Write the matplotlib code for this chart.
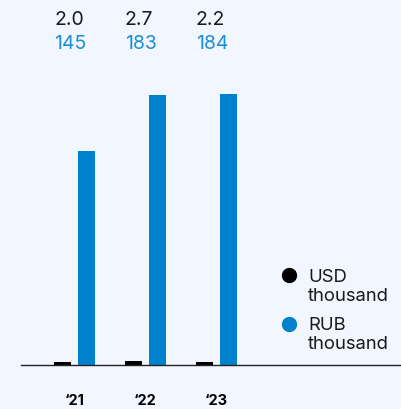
import numpy as np
import matplotlib.pyplot as plt

plt.rcParams['font.family'] = ['Inter', 'DejaVu Sans']

years = ['‘21', '‘22', '‘23']
usd = [2.0, 2.7, 2.2]
rub = [145, 183, 184]
usd_labels = ['2.0', '2.7', '2.2']
rub_labels = ['145', '183', '184']

bg = '#F2F6FE'
blue = '#0081CD'
blue_txt = '#1C90D6'

fig = plt.figure(figsize=(4.01, 4.10), dpi=100, facecolor=bg)
# axes start at the axis line (x=21px) and bottom line (y=366px)
ax = fig.add_axes([21 / 401, 1 - 366 / 410, 1 - 21 / 401, 366 / 410])
ax.set_facecolor(bg)

x = np.arange(len(years))
w = 0.24
off = 0.169
ax.bar(x - off, usd, width=w, color='black')
ax.bar(x + off, rub, width=w, color=blue)

ax.set_xlim(-0.754, 4.599)
ax.set_ylim(0, 184 * 366 / 271)

for s in ['top', 'right', 'left']:
    ax.spines[s].set_visible(False)
ax.spines['bottom'].set_color('#222222')
ax.spines['bottom'].set_linewidth(1.0)
ax.set_yticks([])
ax.set_xticks(x)
ax.set_xticklabels(years, fontweight='bold', fontsize=10.5)
ax.tick_params(axis='x', length=0, pad=20)

# value labels above the chart, left-aligned with the USD bars
for i in range(len(years)):
    xl = x[i] - off - w / 2
    ax.text(xl, 1 - 20 / 366, usd_labels[i], transform=ax.get_xaxis_transform(),
            ha='left', va='center', fontsize=14, color='#1a1a1a')
    ax.text(xl, 1 - 44 / 366, rub_labels[i], transform=ax.get_xaxis_transform(),
            ha='left', va='center', fontsize=14, color=blue_txt)

# legend drawn by hand
fig.lines.append(plt.Line2D([289 / 401], [1 - 276 / 410], marker='o', markersize=10,
                            color='black', transform=fig.transFigure))
fig.lines.append(plt.Line2D([289 / 401], [1 - 325 / 410], marker='o', markersize=10,
                            color=blue, transform=fig.transFigure))
fig.text(308 / 401, 1 - 277 / 410, 'USD', ha='left', va='center', fontsize=13.3, color='#1a1a1a')
fig.text(308 / 401, 1 - 297 / 410, 'thousand', ha='left', va='center', fontsize=13.3, color='#1a1a1a')
fig.text(308 / 401, 1 - 325 / 410, 'RUB', ha='left', va='center', fontsize=13.3, color='#1a1a1a')
fig.text(308 / 401, 1 - 345 / 410, 'thousand', ha='left', va='center', fontsize=13.3, color='#1a1a1a')

fig.savefig('out.png', dpi=100, facecolor=bg)
